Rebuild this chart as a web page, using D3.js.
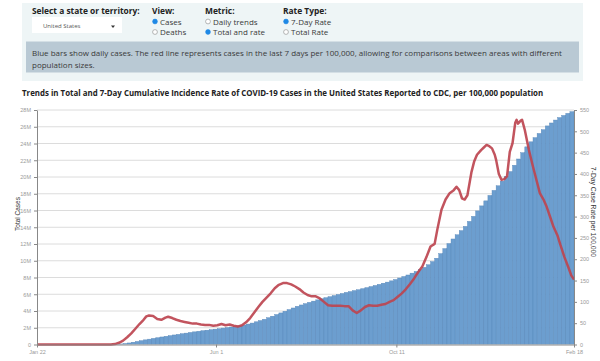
<!DOCTYPE html>
<html>
<head>
<meta charset="utf-8">
<script src="https://cdn.jsdelivr.net/npm/d3@7"></script>
<style>
	body { margin: 0; background: #fff; }
	svg { display: block; font-family: "Open Sans", sans-serif; }
	.ui { font-size: 8px; fill: #3a3a3a; }
	.hd { font-size: 8.4px; font-weight: bold; fill: #222; }
	.axis text { font-family: "Liberation Sans", Arial, sans-serif; font-size: 5.5px; fill: #999; }
	.axis path, .axis line { stroke: #888; }
</style>
</head>
<body>
<svg id="chart" width="600" height="361"></svg>
<script>
// cumulative total cases (millions), one value every 3 days from Jan 22, 2020
var startDate = new Date(2020, 0, 22),
	stepDays = 3;
var totalCases = [
	0, 0, 0, 0, 0, 0, 0, 0, 0, 0, 0, 0, 0, 0, 0, 0, 0.001, 0.002, 0.004,
	0.013, 0.033, 0.065, 0.12, 0.185, 0.275, 0.365, 0.46, 0.555, 0.64, 0.73,
	0.81, 0.90, 0.98, 1.06, 1.14, 1.21, 1.29, 1.36, 1.44, 1.51, 1.58, 1.65,
	1.71, 1.77, 1.83, 1.88, 1.96, 2.02, 2.09, 2.15, 2.23, 2.32, 2.44, 2.56,
	2.71, 2.86, 3.01, 3.20, 3.38, 3.58, 3.77, 3.97, 4.17, 4.36, 4.56, 4.72,
	4.88, 5.03, 5.18, 5.33, 5.46, 5.59, 5.71, 5.84, 5.97, 6.09, 6.22, 6.32,
	6.44, 6.54, 6.67, 6.79, 6.92, 7.05, 7.18, 7.32, 7.45, 7.60, 7.76, 7.94,
	8.12, 8.30, 8.52, 8.72, 8.96, 9.21, 9.52, 9.90, 10.30, 10.85, 11.45, 12.05,
	12.6, 13.1, 13.6, 14.1, 14.7, 15.3, 15.95, 16.55, 17.15, 17.8, 18.4, 18.95,
	19.5, 20.05, 20.65, 21.4, 22.15, 22.9, 23.6, 24.2, 24.7, 25.2, 25.65, 26.1,
	26.45, 26.8, 27.1, 27.35, 27.6, 27.8
];

// 7-day case rate per 100,000 (days since Jan 22, 2020)
var rateDay = [
	0, 54, 57, 60, 63, 66, 69, 72, 75, 78, 80, 82, 85, 88, 91, 94, 96, 99, 102,
	105, 108, 111, 114, 117, 120, 123, 126, 129, 132, 135, 138, 141, 144, 147,
	150, 153, 156, 159, 162, 165, 168, 171, 174, 177, 180, 183, 186, 189, 192,
	195, 198, 201, 204, 207, 210, 213, 216, 219, 222, 225, 228, 231, 234, 237,
	240, 243, 246, 249, 252, 255, 258, 261, 264, 267, 270, 273, 276, 279, 282,
	285, 288, 291, 293, 296, 299, 302, 305, 307, 309, 311, 313, 315, 318, 320,
	322, 325, 327, 329, 331, 333, 335, 336, 338, 340, 342, 344, 346, 348, 350,
	351, 352, 354, 355, 357, 360, 363, 366, 368, 371, 373, 376, 378, 381, 383,
	386, 389, 391, 393
];
var rateValue = [
	0, 0, 1, 4, 9, 17, 26, 37, 48, 58, 66, 68, 67, 60, 58, 63, 65, 62, 58,
	55, 53, 51, 49, 49, 47, 46, 46, 44, 45, 48, 45, 47, 44, 42,
	45, 52, 62, 75, 88, 100, 110, 120, 132, 140, 144, 144, 141, 136, 130,
	122, 116, 113, 113, 108, 100, 92, 91, 91, 91, 90, 90, 80, 74, 80,
	88, 92, 91, 91, 93, 95, 100, 104, 112, 120, 130, 142, 155, 170, 183,
	205, 230, 236, 270, 316, 340, 355, 362, 370, 362, 343, 340, 350, 405, 430,
	445, 456, 462, 468, 465, 460, 445, 433, 400, 386, 388, 395, 452, 472, 520,
	527, 518, 525, 527, 503, 456, 417, 380, 355, 338, 323, 295, 276, 255, 234,
	205, 180, 162, 152
];

var leftTicks = [0, 2, 4, 6, 8, 10, 12, 14, 16, 18, 20, 22, 24, 26, 28];
var rightTicks = [0, 50, 100, 150, 200, 250, 300, 350, 400, 450, 500, 550];
var dateTicks = ["2020-01-22", "2020-06-01", "2020-10-11", "2021-02-18"];

var svg = d3.select('#chart');

// ---- top control panel
svg.append('rect').attr('x', 22).attr('y', 3).attr('width', 561).attr('height', 78)
	.attr('fill', '#eef5f6');
svg.append('text').attr('class', 'hd').attr('x', 32).attr('y', 14)
	.text('Select a state or territory:');
svg.append('rect').attr('x', 32).attr('y', 17).attr('width', 90).attr('height', 16)
	.attr('fill', '#fff');
svg.append('text').attr('x', 43).attr('y', 28).style('font-size', '6px').attr('fill', '#555')
	.text('United States');
svg.append('path').attr('d', 'M111,25.5 L115,25.5 L113,28 Z').attr('fill', '#333');

var groups = [
	{x: 152, title: 'View:', opts: ['Cases', 'Deaths'], on: 0},
	{x: 205, title: 'Metric:', opts: ['Daily trends', 'Total and rate'], on: 1},
	{x: 283, title: 'Rate Type:', opts: ['7-Day Rate', 'Total Rate'], on: 0}
];
groups.forEach(function(g) {
	svg.append('text').attr('class', 'hd').attr('x', g.x).attr('y', 14).text(g.title);
	g.opts.forEach(function(o, i) {
		var cy = 21.5 + i * 10.5;
		svg.append('circle').attr('cx', g.x + 3).attr('cy', cy).attr('r', 2.4)
			.attr('fill', i === g.on ? '#1e88e5' : '#fff')
			.attr('stroke', i === g.on ? '#1e88e5' : '#888').attr('stroke-width', 0.6);
		svg.append('text').attr('class', 'ui').attr('x', g.x + 8).attr('y', cy + 3).text(o);
	});
});

svg.append('rect').attr('x', 26).attr('y', 41.5).attr('width', 553).attr('height', 31)
	.attr('fill', '#b9c9d4');
svg.append('text').attr('class', 'ui').attr('x', 32).attr('y', 56)
	.text('Blue bars show daily cases. The red line represents cases in the last 7 days per 100,000, allowing for comparisons between areas with different');
svg.append('text').attr('class', 'ui').attr('x', 32).attr('y', 67.5)
	.text('population sizes.');

// ---- title
svg.append('text').attr('x', 22).attr('y', 95.5)
	.style('font-size', '7.9px').style('font-weight', 'bold').attr('fill', '#222')
	.text('Trends in Total and 7-Day Cumulative Incidence Rate of COVID-19 Cases in the United States Reported to CDC, per 100,000 population');

// ---- chart
var plotL = 37, plotR = 574, plotT = 110, plotB = 344.5;
var parse = d3.timeParse('%Y-%m-%d');

var x = d3.scaleTime()
	.domain([parse(dateTicks[0]), parse(dateTicks[3])])
	.range([plotL, plotR]);
var yL = d3.scaleLinear().domain([0, 28]).range([plotB, plotT]);
var yR = d3.scaleLinear().domain([0, 550]).range([plotB, plotT]);

svg.append('defs').append('clipPath').attr('id', 'plot')
	.append('rect').attr('x', plotL).attr('y', plotT - 5)
	.attr('width', plotR - plotL).attr('height', plotB - plotT + 5);

svg.append('g').selectAll('line').data(leftTicks.slice(1)).enter().append('line')
	.attr('x1', plotL).attr('x2', plotR)
	.attr('y1', d => yL(d)).attr('y2', d => yL(d))
	.attr('stroke', '#dcdcdc').attr('stroke-width', 1);

var bars = totalCases.map(function(v, i) {
	return {date: d3.timeDay.offset(startDate, i * stepDays), v: v};
});
svg.append('g').attr('clip-path', 'url(#plot)')
	.selectAll('rect').data(bars).enter().append('rect')
	.attr('x', d => x(d3.timeDay.offset(d.date, -stepDays)))
	.attr('width', d => x(d.date) - x(d3.timeDay.offset(d.date, -stepDays)))
	.attr('y', d => yL(d.v))
	.attr('height', d => plotB - yL(d.v))
	.attr('fill', '#6c9ecf')
	.attr('stroke', '#5586b8').attr('stroke-width', 0.4);

var rate = rateDay.map(function(d, i) {
	return {date: d3.timeDay.offset(startDate, d), v: rateValue[i]};
});
svg.append('path').datum(rate)
	.attr('fill', 'none')
	.attr('stroke', '#bd4550').attr('stroke-width', 2.5)
	.attr('stroke-linejoin', 'round').attr('stroke-opacity', 0.92)
	.attr('d', d3.line().x(d => x(d.date)).y(d => yR(d.v)));

// axes
svg.append('g').attr('class', 'axis')
	.attr('transform', 'translate(' + plotL + ',0)')
	.call(d3.axisLeft(yL).tickValues(leftTicks).tickSize(3).tickSizeOuter(0)
		.tickFormat(d => d === 0 ? '0' : d + 'M'));
svg.append('g').attr('class', 'axis')
	.attr('transform', 'translate(' + plotR + ',0)')
	.call(d3.axisRight(yR).tickValues(rightTicks).tickSize(3).tickSizeOuter(0));
svg.append('g').attr('class', 'axis')
	.attr('transform', 'translate(0,' + plotB + ')')
	.call(d3.axisBottom(x).tickValues(dateTicks.map(parse)).tickSize(3).tickSizeOuter(0)
		.tickFormat(d3.timeFormat('%b %-d')));

svg.append('text')
	.attr('transform', 'translate(20,214) rotate(-90)')
	.attr('text-anchor', 'middle')
	.style('font-family', '"Liberation Sans", Arial, sans-serif').style('font-size', '6.5px')
	.attr('fill', '#333').text('Total Cases');
svg.append('text')
	.attr('transform', 'translate(591,212) rotate(90)')
	.attr('text-anchor', 'middle')
	.style('font-family', '"Liberation Sans", Arial, sans-serif').style('font-size', '6.8px')
	.attr('fill', '#333').text('7-Day Case Rate per 100,000');
</script>
</body>
</html>
